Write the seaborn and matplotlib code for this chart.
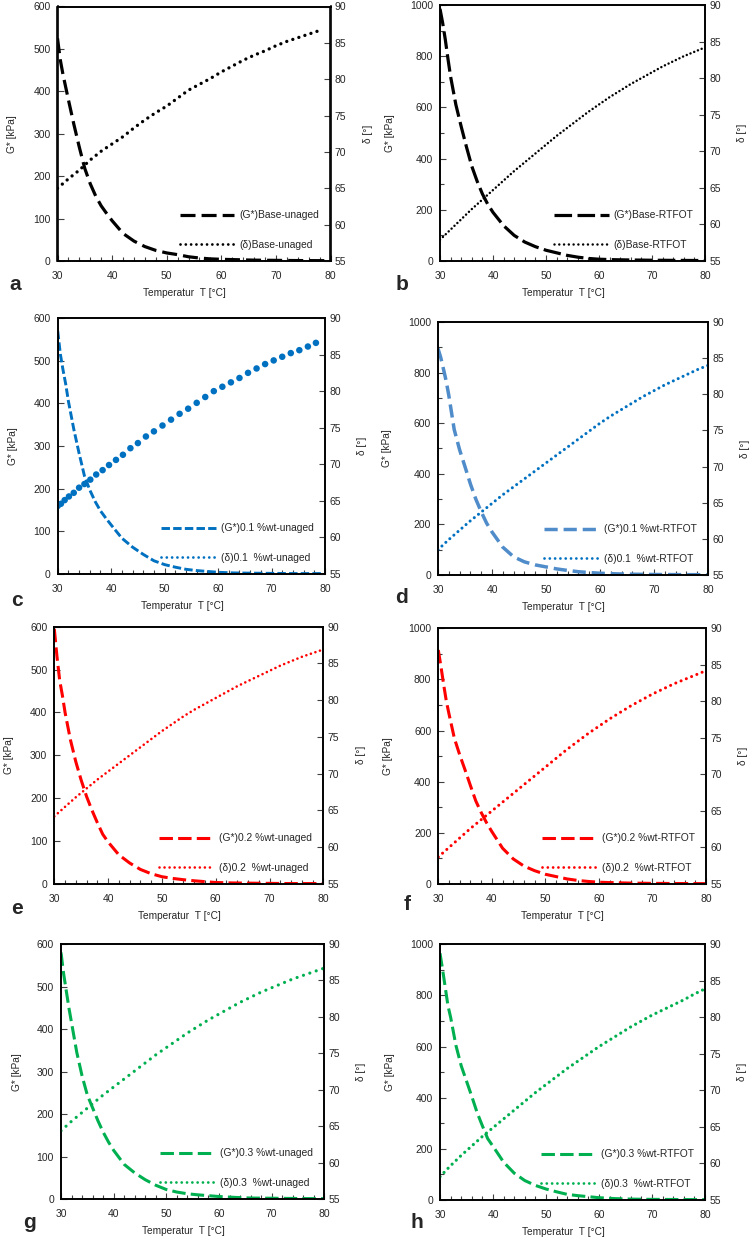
import matplotlib
matplotlib.use("Agg")
import matplotlib.pyplot as plt
from matplotlib.lines import Line2D
from matplotlib.ticker import MultipleLocator
import seaborn as sns

sns.set_style("ticks")
plt.rcParams["font.family"] = ["Liberation Sans", "DejaVu Sans"]

# temperature grids [°C]
temp_g = [30, 30.5, 31, 31.5, 32, 33, 34, 35, 36, 37, 38, 39, 40, 42, 44, 46,
          48, 50, 52, 54, 56, 58, 60, 63, 66, 70, 74, 78, 80]
temp_d = [30, 32, 34, 36, 38, 40, 42, 44, 46, 48, 50, 52, 54, 56, 58, 60, 62,
          64, 66, 68, 70, 72, 74, 76, 78, 80]
temp_d_a = [30, 32, 34, 36, 38, 40, 42, 44, 46, 48, 50, 52, 54, 56, 58, 60,
            62, 64, 66, 68, 70, 72, 74, 76, 78]
temp_d_c = [30, 30.6, 31.3, 32.1, 33, 34, 35, 36.1, 37.2, 38.4, 39.6, 40.9,
            42.2, 43.6, 45, 46.5, 48, 49.6, 51.2, 52.8, 54.4, 56, 57.6, 59.2,
            60.8, 62.4, 64, 65.6, 67.2, 68.8, 70.4, 72, 73.6, 75.2, 76.8, 78.3]

# G* [kPa]
g_base_unaged = [525, 475, 440, 410, 380, 322, 268, 218, 182, 153, 130, 112, 95,
                 65, 47, 34, 25, 19, 15, 10, 7, 5, 4, 3, 2, 1.5, 1, 0.8, 0.7]
g_base_rtfot = [985, 930, 865, 790, 720, 610, 525, 445, 370, 312, 262, 222, 190,
                138, 100, 74, 56, 42, 32, 22, 15, 10, 7, 5, 4, 3, 2.5, 2, 2]
g_01_unaged = [570, 515, 478, 445, 405, 340, 283, 230, 197, 170, 148, 131, 115,
               84, 63, 46, 31, 22, 16, 11, 8, 6, 4, 2.5, 2, 1.5, 1, 1, 1]
g_01_rtfot = [895, 860, 815, 768, 710, 575, 495, 428, 360, 300, 250, 205, 170,
              110, 72, 52, 40, 32, 24, 18, 13, 9.5, 7, 4.5, 3, 2, 1.5, 1.2, 1]
g_02_unaged = [595, 530, 475, 440, 400, 336, 285, 242, 204, 172, 143, 116, 98,
               68, 49, 34, 24, 17, 13, 10, 7.5, 5.5, 3.5, 2.5, 2, 1.5, 1, 1, 1]
g_02_rtfot = [915, 850, 780, 715, 665, 570, 505, 446, 385, 325, 280, 240, 205,
              140, 98, 70, 52, 38, 29, 20, 14, 10, 7, 5, 3.5, 2.5, 2, 1.5, 1.5]
g_03_unaged = [580, 530, 490, 450, 415, 345, 290, 245, 215, 185, 158, 135, 115,
               82, 62, 46, 33, 23, 17, 13, 10.5, 8.5, 6.5, 4.5, 3, 2.5, 2, 1.5, 1.5]
g_03_rtfot = [965, 900, 830, 760, 715, 605, 525, 465, 405, 342, 290, 240, 210,
              148, 105, 76, 57, 43, 32, 22, 17, 13, 9, 5.5, 3.5, 2.5, 2, 1.5, 1.5]

# phase angle delta [°]
d_base_unaged = [65.0, 66.3, 67.5, 68.9, 70.1, 71.1, 72.1, 73.3, 74.4, 75.4, 76.3,
                 77.4, 78.5, 79.3, 80.1, 81.0, 81.8, 82.6, 83.3, 83.9, 84.6, 85.2,
                 85.7, 86.2, 86.7]
d_base_rtfot = [57.9, 59.3, 60.7, 62.1, 63.4, 64.7, 66.0, 67.3, 68.5, 69.7, 70.9,
                72.1, 73.2, 74.3, 75.4, 76.4, 77.4, 78.3, 79.2, 80.0, 80.8, 81.6,
                82.3, 83.0, 83.6, 84.2]
d_01_unaged = [64.3, 64.6, 65.1, 65.6, 66.1, 66.8, 67.3, 67.9, 68.6, 69.2, 69.9,
               70.6, 71.3, 72.2, 72.9, 73.8, 74.5, 75.3, 76.1, 76.9, 77.6, 78.4,
               79.2, 80.0, 80.6, 81.2, 81.8, 82.5, 83.1, 83.7, 84.2, 84.7, 85.2,
               85.6, 86.1, 86.6]
d_01_rtfot = [58.5, 59.9, 61.2, 62.5, 63.7, 64.9, 66.1, 67.2, 68.3, 69.4, 70.5,
              71.6, 72.7, 73.8, 74.9, 76.0, 77.0, 77.9, 78.8, 79.7, 80.5, 81.3,
              82.0, 82.7, 83.4, 84.0]
d_02_unaged = [64.2, 65.5, 66.8, 68.0, 69.2, 70.3, 71.4, 72.5, 73.6, 74.7, 75.8,
               76.8, 77.8, 78.7, 79.5, 80.3, 81.1, 81.9, 82.6, 83.3, 84.0, 84.7,
               85.3, 85.9, 86.4, 86.9]
d_02_rtfot = [58.7, 60.0, 61.3, 62.6, 63.8, 65.0, 66.2, 67.4, 68.6, 69.8, 71.0,
              72.2, 73.4, 74.5, 75.6, 76.6, 77.6, 78.5, 79.4, 80.2, 81.0, 81.7,
              82.4, 83.0, 83.6, 84.2]
d_03_unaged = [64.4, 65.7, 66.9, 68.1, 69.3, 70.4, 71.5, 72.6, 73.7, 74.8, 75.8,
               76.8, 77.8, 78.7, 79.6, 80.4, 81.2, 82.0, 82.7, 83.4, 84.0, 84.6,
               85.2, 85.7, 86.2, 86.7]
d_03_rtfot = [58.2, 59.7, 61.1, 62.4, 63.7, 64.9, 66.1, 67.3, 68.5, 69.7, 70.8,
              71.9, 73.0, 74.0, 75.0, 76.0, 76.9, 77.8, 78.7, 79.5, 80.3, 81.0,
              81.7, 82.4, 83.2, 83.9]

BLACK, BLUE, BLUE_LIGHT, RED, GREEN = "#000000", "#0070C0", "#4F8CC9", "#FF0000", "#00B050"
TXT = "#262626"

fig = plt.figure(figsize=(7.53, 12.4), dpi=100)


def add_panel(box, letter, letter_xy, g_vals, d_temp, d_vals, g_max,
              g_color, d_color, g_style, d_style, labels, big_dots=False):
    left, top, w, h = box
    ax = fig.add_axes([left / 753, 1 - (top + h) / 1240, w / 753, h / 1240])
    ax2 = ax.twinx()

    g_lw, g_dash = g_style
    d_lw, d_dots = d_style
    sns.lineplot(x=temp_g, y=g_vals, ax=ax, color=g_color, lw=g_lw,
                 linestyle=(0, g_dash), errorbar=None, legend=False)
    if big_dots:
        sns.scatterplot(x=d_temp, y=d_vals, ax=ax2, color=d_color, s=22,
                        edgecolor="none", legend=False)
    else:
        sns.lineplot(x=d_temp, y=d_vals, ax=ax2, color=d_color, lw=d_lw,
                     linestyle=(0, d_dots), dash_capstyle="round",
                     errorbar=None, legend=False)

    ax.set_xlim(30, 80)
    ax.set_ylim(0, g_max)
    ax2.set_ylim(55, 90)
    ax.xaxis.set_major_locator(MultipleLocator(10))
    ax.xaxis.set_minor_locator(MultipleLocator(2))
    ax.yaxis.set_major_locator(MultipleLocator(100 if g_max == 600 else 200))
    if g_max > 600:
        ax.yaxis.set_minor_locator(MultipleLocator(100))
    ax2.yaxis.set_major_locator(MultipleLocator(5))

    ax.tick_params(which="both", direction="in", width=0.8, color="#404040",
                   labelsize=7.5, labelcolor=TXT)
    ax.tick_params(which="major", length=4)
    ax.tick_params(which="minor", length=3)
    ax.tick_params(axis="x", pad=7)
    ax.tick_params(axis="y", pad=5)
    ax2.tick_params(direction="in", length=4, width=0.8, color="#404040",
                    labelsize=7.5, labelcolor=TXT, pad=3)
    for a in (ax, ax2):
        for sp in a.spines.values():
            sp.set_linewidth(1.2)
            sp.set_color("black")

    ax.set_xlabel("Temperatur  T [°C]", fontsize=7.3, color=TXT)
    ax.xaxis.set_label_coords(0.465, -0.105)
    ax.set_ylabel("G* [kPa]", fontsize=7.3, color=TXT)
    ax.yaxis.set_label_coords(-0.15 if g_max == 600 else -0.17, 0.5)
    ax2.set_ylabel("δ [°]", fontsize=7.3, color=TXT)
    ax2.yaxis.set_label_coords(1.12, 0.5)

    handles = [
        Line2D([], [], color=g_color, lw=g_lw, linestyle=(0, g_dash)),
        Line2D([], [], color=d_color, lw=min(d_lw, 2.0), linestyle=(0, (0.01, 1.9)),
               dash_capstyle="round"),
    ]
    leg = ax2.legend(handles, labels, loc="lower right", frameon=False,
                     fontsize=7.4, handlelength=5.3, handletextpad=0.5,
                     labelspacing=1.9, borderpad=0.4, borderaxespad=0.7)
    for t in leg.get_texts():
        t.set_color(TXT)

    fig.text(letter_xy[0] / 753, 1 - letter_xy[1] / 1240, letter, fontsize=15,
             fontweight="bold", ha="center", va="center")


add_panel((57.5, 6.5, 273, 254.5), "a", (15, 285), g_base_unaged, temp_d_a,
          d_base_unaged, 600, BLACK, BLACK, (2.3, (4.7, 1.9)), (2.4, (0.01, 1.9)),
          ["(G*)Base-unaged", "(δ)Base-unaged"])
add_panel((440, 5, 265, 256), "b", (402, 285), g_base_rtfot, temp_d,
          d_base_rtfot, 1000, BLACK, BLACK, (2.3, (5.5, 1.7)), (1.8, (0.01, 1.6)),
          ["(G*)Base-RTFOT", "(δ)Base-RTFOT"])
add_panel((57.7, 318, 267.3, 256), "c", (17, 600), g_01_unaged, temp_d_c,
          d_01_unaged, 600, BLUE, BLUE, (2.1, (2.9, 1.1)), (2.0, (0.01, 1.9)),
          ["(G*)0.1 %wt-unaged", "(δ)0.1  %wt-unaged"], big_dots=True)
add_panel((438, 322, 270, 253), "d", (402, 598), g_01_rtfot, temp_d,
          d_01_rtfot, 1000, BLUE_LIGHT, BLUE, (2.5, (3.8, 1.7)), (2.2, (0.01, 1.75)),
          ["(G*)0.1 %wt-RTFOT", "(δ)0.1  %wt-RTFOT"])
add_panel((54.3, 626.7, 269, 257.3), "e", (17, 908), g_02_unaged, temp_d,
          d_02_unaged, 600, RED, RED, (2.2, (4.4, 1.7)), (1.9, (0.01, 1.8)),
          ["(G*)0.2 %wt-unaged", "(δ)0.2  %wt-unaged"])
add_panel((438.3, 628.3, 267.7, 255.7), "f", (407, 905), g_02_rtfot, temp_d,
          d_02_rtfot, 1000, RED, RED, (2.2, (4.4, 1.7)), (2.2, (0.01, 1.85)),
          ["(G*)0.2 %wt-RTFOT", "(δ)0.2  %wt-RTFOT"])
add_panel((61, 944, 263.3, 255.3), "g", (30, 1222), g_03_unaged, temp_d,
          d_03_unaged, 600, GREEN, GREEN, (2.2, (4.4, 1.7)), (2.3, (0.01, 2.1)),
          ["(G*)0.3 %wt-unaged", "(δ)0.3  %wt-unaged"])
add_panel((440, 944.3, 265, 255.7), "h", (417, 1222), g_03_rtfot, temp_d,
          d_03_rtfot, 1000, GREEN, GREEN, (2.2, (4.4, 1.7)), (2.3, (0.01, 1.8)),
          ["(G*)0.3 %wt-RTFOT", "(δ)0.3  %wt-RTFOT"])

fig.savefig("out.png", dpi=100, facecolor="white")
